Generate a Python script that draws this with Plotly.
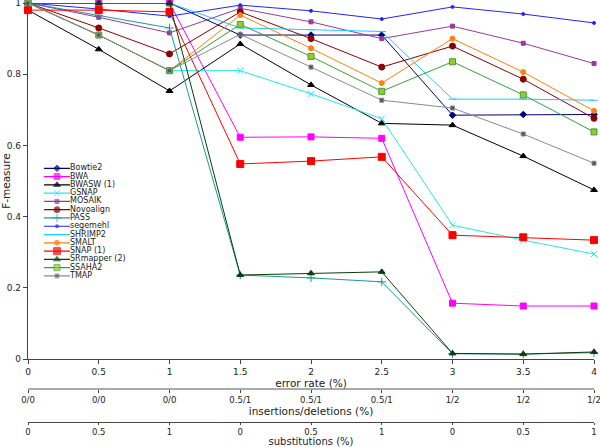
import plotly.graph_objects as go

# error rate steps, shared by the three bottom axes
ERROR_RATE = [0, 0.5, 1, 1.5, 2, 2.5, 3, 3.5, 4]
INDEL_LABELS = ["0/0", "0/0", "0/0", "0.5/1", "0.5/1", "0.5/1", "1/2", "1/2", "1/2"]
SUBST_LABELS = ["0", "0.5", "1", "0", "0.5", "1", "0", "0.5", "1"]

# F-measure per mapper
bowtie2 = [1.0, 1.0, 1.0, 0.91, 0.91, 0.91, 0.685, 0.687, 0.687]
bwa = [1.0, 1.0, 1.0, 0.623, 0.624, 0.62, 0.157, 0.149, 0.149]
bwasw = [0.98, 0.87, 0.753, 0.885, 0.77, 0.662, 0.657, 0.57, 0.475]
gsnap = [1.0, 0.91, 0.81, 0.81, 0.745, 0.675, 0.376, 0.334, 0.295]
mosaik = [1.0, 0.96, 0.916, 0.985, 0.947, 0.90, 0.935, 0.887, 0.83]
novoalign = [1.0, 0.93, 0.857, 0.975, 0.90, 0.82, 0.879, 0.786, 0.676]
pass_ = [1.0, 0.965, 0.93, 0.236, 0.228, 0.217, 0.015, 0.014, 0.018]
segemehl = [1.0, 0.983, 0.963, 0.994, 0.978, 0.955, 0.989, 0.969, 0.944]
shrimp2 = [1.0, 1.0, 1.0, 0.93, 0.925, 0.92, 0.73, 0.73, 0.727]
smalt = [1.0, 0.91, 0.81, 0.966, 0.873, 0.775, 0.90, 0.806, 0.697]
snap = [0.98, 0.98, 0.975, 0.548, 0.556, 0.568, 0.348, 0.342, 0.334]
srmapper = [1.0, 1.0, 1.0, 0.236, 0.241, 0.245, 0.016, 0.014, 0.02]
ssaha2 = [1.0, 0.91, 0.81, 0.94, 0.85, 0.752, 0.835, 0.742, 0.638]
tmap = [1.0, 0.91, 0.81, 0.912, 0.82, 0.727, 0.705, 0.632, 0.55]

# name, values, line colour, symbol, size, marker fill
SERIES = [
    ("Bowtie2", bowtie2, "#00007f", "diamond", 5, "#00007f"),
    ("BWA", bwa, "#ff00ff", "square", 6, "#ff00ff"),
    ("BWASW (1)", bwasw, "#000000", "triangle-up", 6, "#000000"),
    ("GSNAP", gsnap, "#22e8f0", "x-thin-open", 6, "#22e8f0"),
    ("MOSAIK", mosaik, "#9a3a9a", "square", 4, "#9a3a9a"),
    ("Novoalign", novoalign, "#8b0000", "circle", 6, "#8b0000"),
    ("PASS", pass_, "#1a9a9a", "cross-thin-open", 6, "#1a9a9a"),
    ("segemehl", segemehl, "#2222ff", "circle", 3, "#2222ff"),
    ("SHRIMP2", shrimp2, "#1ecbff", "line-ew-open", 6, "#1ecbff"),
    ("SMALT", smalt, "#ff7f0e", "circle", 5, "#ff7f0e"),
    ("SNAP (1)", snap, "#ff0000", "square", 7, "#ff0000"),
    ("SRmapper (2)", srmapper, "#0b3d0b", "triangle-up", 6, "#0b3d0b"),
    ("SSAHA2", ssaha2, "#3a9e3a", "square", 6, "#99cc22"),
    ("TMAP", tmap, "#8a8a8a", "square", 4, "#555555"),
]

FONT = "DejaVu Sans, sans-serif"
AXIS_COLOR = "#444444"

fig = go.Figure()

# ── data lines ─────────────────────────────────────────────────────────
for name, vals, color, symbol, size, fill in SERIES:
    fig.add_trace(go.Scatter(
        x=ERROR_RATE, y=vals, name=name,
        mode="lines+markers",
        line=dict(color=color, width=1),
        marker=dict(symbol=symbol, size=size, color=fill,
                    line=dict(color=color, width=1)),
        cliponaxis=False, showlegend=False,
    ))

# dummies so the extra bottom axes get drawn
for ax in ("x2", "x3"):
    fig.add_trace(go.Scatter(x=[None], y=[None], xaxis=ax, showlegend=False,
                             hoverinfo="skip"))

# ── compact legend drawn on a hidden subplot ───────────────────────────
LEG_X = [0, 13, 26]
for i, (name, vals, color, symbol, size, fill) in enumerate(SERIES):
    fig.add_trace(go.Scatter(
        x=LEG_X, y=[i] * 3, xaxis="x4", yaxis="y4",
        mode="lines+markers+text",
        line=dict(color=color, width=1.2),
        marker=dict(symbol=symbol, size=[0, size, 0], color=fill,
                    line=dict(color=color, width=1)),
        text=["", "", name], textposition="middle right",
        textfont=dict(family=FONT, size=8, color="#222222"),
        cliponaxis=False, showlegend=False, hoverinfo="skip",
    ))

common_x = dict(range=[0, 4], tickvals=ERROR_RATE, showgrid=False, zeroline=False,
                ticks="outside", ticklen=4, tickcolor=AXIS_COLOR, automargin=False,
                ticklabeloverflow="allow",
                tickfont=dict(family=FONT, size=9, color="#222222"),
                showline=True, linecolor=AXIS_COLOR, linewidth=1.3)
small_x = {**common_x, "ticklen": 3, "tickfont": dict(family=FONT, size=8.5, color="#222222")}

fig.update_layout(
    width=600, height=447,
    margin=dict(l=28, r=6, t=3, b=0),
    plot_bgcolor="white", paper_bgcolor="white",
    font=dict(family=FONT, size=10, color="#222222"),
    xaxis=dict(**common_x, ticktext=[f"{v:g}" for v in ERROR_RATE],
               title=dict(text="error rate (%)", standoff=2,
                          font=dict(size=10.5))),
    xaxis2=dict(**{**small_x, "linecolor": "#aaaaaa", "linewidth": 2},
                overlaying="x", anchor="free", position=0.131,
                ticktext=INDEL_LABELS,
                title=dict(text="insertions/deletions (%)", standoff=0,
                           font=dict(size=10.5))),
    xaxis3=dict(**{**small_x, "ticklen": 2}, overlaying="x", anchor="free",
                position=0.056, ticktext=SUBST_LABELS,
                title=dict(text="substitutions (%)", standoff=2,
                           font=dict(size=10))),
    yaxis=dict(domain=[0.198, 1], range=[0, 1], tickvals=[0, 0.2, 0.4, 0.6, 0.8, 1],
               ticktext=["0", "0.2", "0.4", "0.6", "0.8", "1"], automargin=False,
               ticklabeloverflow="allow",
               showgrid=False, zeroline=False, ticks="outside", ticklen=4,
               tickcolor=AXIS_COLOR, showline=True, linecolor=AXIS_COLOR,
               linewidth=1.3, tickfont=dict(family=FONT, size=9),
               title=dict(text="F-measure", standoff=4, font=dict(size=10.5))),
    xaxis4=dict(domain=[0.0283, 0.205], range=[0, 100], visible=False,
                anchor="y4", fixedrange=True),
    yaxis4=dict(domain=[0.376, 0.637], range=[13.5, -0.5], visible=False,
                anchor="x4", fixedrange=True),
)

# page body margin off so the figure sits at the window's corner
fig.write_html("out.html", config={"displayModeBar": False},
               post_script="document.body.style.margin='0';")
